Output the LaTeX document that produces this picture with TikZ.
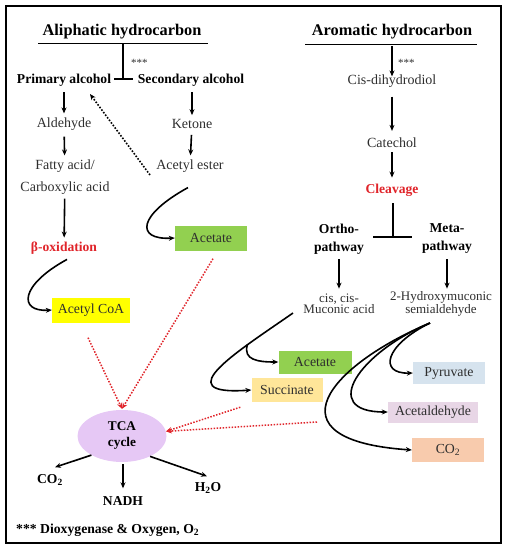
\documentclass[tikz,border=0pt]{standalone}
\usepackage{fontspec}
\setmainfont{Liberation Serif}
\usetikzlibrary{arrows.meta,shapes.geometric}
\definecolor{txt}{HTML}{2E2E2E}
\definecolor{redt}{HTML}{E0242A}
\definecolor{cgreen}{HTML}{92D050}
\definecolor{cyellow}{HTML}{FFFF00}
\definecolor{csucc}{HTML}{FFE699}
\definecolor{cpyr}{HTML}{D6E3EE}
\definecolor{cald}{HTML}{E8D6E6}
\definecolor{cco}{HTML}{F8CBAD}
\definecolor{ctca}{HTML}{E6C8F5}
\begin{document}
\begin{tikzpicture}[x=1pt,y=-1pt,
  titlet/.style={font={\fontsize{16.3}{18}\selectfont\bfseries}, text=black, inner sep=1pt},
  bld/.style={font={\fontsize{13.6}{18}\selectfont\bfseries}, text=black, inner sep=1pt, align=center},
  reg/.style={font={\fontsize{14}{22}\selectfont}, text=txt, inner sep=1pt, align=center},
  regs/.style={font={\fontsize{13}{11.5}\selectfont}, text=txt, inner sep=1pt, align=center},
  redb/.style={font={\fontsize{13.6}{15}\selectfont\bfseries}, text=redt, inner sep=1pt},
  boxn/.style={font={\fontsize{13.8}{15}\selectfont}, text=txt, inner sep=0pt, minimum height=24pt},
  arr/.style={line width=1.6pt, -{Stealth[length=6pt,width=5pt]}},
  varr/.style={arr, shorten <=5pt, shorten >=3pt},
  dotarr/.style={line width=1.6pt, dash pattern=on 1.6pt off 1.6pt, -{Stealth[length=6pt,width=5pt]}},
  redarr/.style={redt, line width=1.5pt, dash pattern=on 1.5pt off 1.5pt, -{Stealth[length=6pt,width=5pt]}},
  tbar/.style={line width=1.6pt},
  star/.style={font={\fontsize{11}{12}\selectfont}, text=txt, inner sep=0pt, anchor=west}
]
\useasboundingbox (0,0) rectangle (508,550);
\draw[line width=2pt] (6,6) rectangle (501,543);

% ---------- aliphatic ----------
\node[titlet] (alit) at (122,32) {Aliphatic hydrocarbon};
\draw[line width=1pt] (38,43) -- (208,43);
\draw[tbar] (123,43) -- (123,79);
\draw[tbar] (114,79) -- (133,79);
\node[star] (st1) at (131,63) {***};
\node[bld] (prim) at (64,80) {Primary alcohol};
\node[bld] (sec) at (191,80) {Secondary alcohol};
\node[reg] (ald) at (64,124) {Aldehyde};
\node[reg] (fatty) at (65,177) {Fatty acid/\\Carboxylic acid};
\node[redb] (beta) at (64,248) {β-oxidation};
\node[reg] (keton) at (192,124) {Ketone};
\node[reg] (acest) at (190,166) {Acetyl ester};
\node[boxn, fill=cgreen, minimum width=72pt, minimum height=25pt] (acet1) at (211,238) {Acetate};
\node[boxn, fill=cyellow, minimum width=78pt, minimum height=25pt] (acoa) at (91,310) {Acetyl CoA};

\draw[varr] (prim) -- (ald);
\draw[varr] (ald) -- (fatty);
\draw[varr, shorten <=3pt] (fatty) -- (beta);
\draw[varr] (sec.south -| keton) -- (keton);
\draw[varr] (keton) -- (acest);
\coordinate (dotS) at (150,175);
\coordinate (dotE) at (90,94);
\draw[dotarr] (dotS) -- (dotE);
\draw[arr] ([shift={(3,4)}]beta.south) .. controls (20,285) and (18,312) .. (acoa.west);
\draw[arr] ([shift={(-2,14)}]acest.south) .. controls (138,215) and (135,240) .. (acet1.west);

% ---------- TCA ----------
\node[ellipse, fill=ctca, minimum width=89pt, minimum height=52pt, inner sep=0pt,
      font={\fontsize{13.3}{16}\selectfont\bfseries}, align=center] (tca) at (122,436) {TCA\\cycle};
\node[bld] (co2a) at (50,480) {CO\textsubscript{2}};
\node[bld] (nadh) at (123,501) {NADH};
\node[bld] (h2o) at (208,488) {H\textsubscript{2}O};
\draw[arr] (tca.212) -- ([shift={(5,-6)}]co2a.north);
\draw[arr] (tca.south) ++(1,2) -- ([shift={(0,-7)}]nadh.north);
\draw[arr] (tca.-36) -- ([shift={(-1,-5)}]h2o.north);

% ---------- aromatic ----------
\node[titlet] (arot) at (392,32) {Aromatic hydrocarbon};
\draw[line width=1pt] (305,44) -- (477,44);
\coordinate (aroU) at (392,46);
\node[star] (st2) at (398,63) {***};
\node[reg] (cisd) at (392,81) {Cis-dihydrodiol};
\node[reg] (cat) at (392,143) {Catechol};
\node[redb] (cleav) at (392,190) {Cleavage};
\draw[arr] (aroU) -- ([yshift=-3pt]cisd.north);
\draw[varr, shorten <=8pt, shorten >=6pt] (cisd) -- (cat);
\draw[varr, shorten <=3pt, shorten >=5pt] (cat) -- (cleav);
\draw[tbar] (393,203) -- (393,237);
\draw[tbar] (373,237) -- (412,237);
\node[bld] (ortho) at (339,239) {Ortho-\\pathway};
\node[bld] (meta) at (447,239) {Meta-\\pathway};
\node[regs] (muc) at (339,304) {cis, cis-\\Muconic acid};
\node[regs] (semi) at (441,304) {2-Hydroxymuconic\\semialdehyde};
\draw[varr, shorten <=4pt, shorten >=4pt] (ortho) -- (muc);
\draw[varr, shorten <=4pt, shorten >=4pt] (meta.south) -- (meta.south |- muc.north);

\node[boxn, fill=cgreen, minimum width=73pt, minimum height=23pt] (acet2) at (315,362) {Acetate};
\node[boxn, fill=csucc, minimum width=71pt, minimum height=24pt] (succ) at (287,390) {Succinate};
\node[boxn, fill=cpyr, minimum width=72pt, minimum height=22pt] (pyr) at (449,373) {Pyruvate};
\node[boxn, fill=cald, minimum width=90pt, minimum height=21pt] (acald) at (433,412) {Acetaldehyde};
\node[boxn, fill=cco, minimum width=72pt, minimum height=24pt] (co2b) at (448,450) {CO\textsubscript{2}};

\coordinate (mucS) at (293,313);
\draw[arr] (mucS) .. controls (240,350) and (165,396) .. coordinate[pos=0.28] (br1) (succ.west);
\draw[arr] (br1) .. controls (243,360) and (258,362) .. (acet2.west);
\coordinate (semS) at (430,323);
\draw[arr] (semS) .. controls (330,365) and (265,440) .. (co2b.west);
\draw[arr] (semS) .. controls (360,352) and (318,412) .. (acald.west);
\draw[arr] (semS) .. controls (385,345) and (378,374) .. (pyr.west);

% ---------- red dotted ----------
\coordinate (r4S) at (317,422);
\draw[redarr] ([shift={(-3,15)}]acoa.south) -- ([yshift=1pt]tca.north);
\draw[redarr] ([shift={(2,8)}]acet1.south) -- ([yshift=1pt]tca.north);
\draw[redarr] ([shift={(-11,5)}]succ.south west) -- (tca.6);
\draw[redarr] (r4S) -- (tca.6);

% ---------- footnote ----------
\node[font={\fontsize{13.7}{15}\selectfont\bfseries}, anchor=west, inner sep=0pt] (foot) at (16,530) {*** Dioxygenase \& Oxygen, O\textsubscript{2}};
\end{tikzpicture}
\end{document}
